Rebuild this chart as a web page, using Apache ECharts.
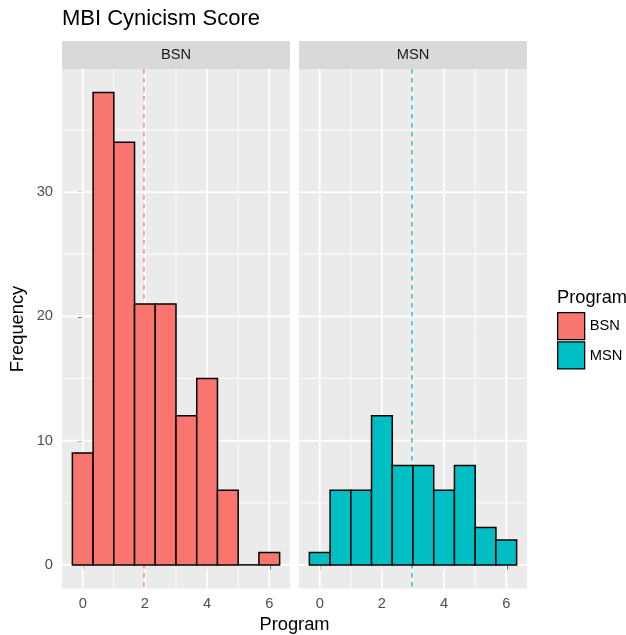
<!DOCTYPE html>
<html><head><meta charset="utf-8">
<script src="https://cdn.jsdelivr.net/npm/echarts@6/dist/echarts.min.js"></script>
<style>html,body{margin:0;padding:0;background:#fff}#c{width:626px;height:635px}</style>
</head><body><div id="c"></div>
<script>
// ---- data ----
const binCenters = [0, 2/3, 4/3, 2, 8/3, 10/3, 4, 14/3, 16/3, 6];
const binWidth = 2/3;
const bsnCounts = [9, 38, 34, 21, 21, 12, 15, 6, 0, 1];
const msnCounts = [1, 6, 6, 12, 8, 8, 6, 8, 3, 2];
const programs = ['BSN', 'MSN'];
const programMeans = [1.97, 2.97];
const programColors = ['#F8766D', '#00BFC4'];
const xTicks = [0, 2, 4, 6];
const xMinorTicks = [1, 3, 5];
const yTicks = [0, 10, 20, 30];
const yMinorTicks = [5, 15, 25, 35];
const titleText = 'MBI Cynicism Score';
const xTitle = 'Program';
const yTitle = 'Frequency';
const legendTitle = 'Program';

// ---- layout ----
const FONT = 'Liberation Sans';
const panelTop = 69, panelH = 519.5, panelW = 228;
const panelLefts = [62, 299];
const xMin = -2/3, xMax = 20/3, yMin = -1.9, yMax = 39.9;
const countsByPanel = [bsnCounts, msnCounts];

const gridItems = [].concat(
  xMinorTicks.map(v => ({axis: 'x', v, major: false})),
  yMinorTicks.map(v => ({axis: 'y', v, major: false})),
  xTicks.map(v => ({axis: 'x', v, major: true})),
  yTicks.map(v => ({axis: 'y', v, major: true}))
);

const grids = [], xAxes = [], yAxes = [], series = [], graphics = [];
panelLefts.forEach((left, p) => {
  grids.push({left: left, top: panelTop, width: panelW, height: panelH,
    show: true, backgroundColor: '#EBEBEB', borderWidth: 0, containLabel: false});
  xAxes.push({type: 'value', gridIndex: p, min: xMin, max: xMax,
    axisLine: {show: false},
    axisTick: {show: true, customValues: xTicks, length: 4.6, lineStyle: {color: '#333333', width: 1.7}},
    axisLabel: {show: true, customValues: xTicks, color: '#4D4D4D', fontSize: 14.7, fontFamily: FONT, margin: 8},
    splitLine: {show: false}, minorSplitLine: {show: false}});
  yAxes.push({type: 'value', gridIndex: p, min: yMin, max: yMax,
    axisLine: {show: false},
    axisTick: {show: p === 0, customValues: yTicks, length: 4.6, lineStyle: {color: '#333333', width: 1.7}},
    axisLabel: {show: p === 0, customValues: yTicks, color: '#4D4D4D', fontSize: 14.7, fontFamily: FONT, margin: 9},
    splitLine: {show: false}, minorSplitLine: {show: false}});

  // gridlines
  series.push({type: 'custom', xAxisIndex: p, yAxisIndex: p, z: 1, silent: true,
    data: gridItems.map(g => g.axis === 'x' ? [g.v, 0] : [0, g.v]),
    renderItem: function (params, api) {
      const g = gridItems[params.dataIndex];
      const cs = params.coordSys;
      const lw = g.major ? 1.8 : 0.9;
      if (g.axis === 'x') {
        const x = api.coord([g.v, 0])[0];
        return {type: 'line', shape: {x1: x, y1: cs.y, x2: x, y2: cs.y + cs.height},
          style: {stroke: '#FFFFFF', lineWidth: lw}};
      }
      const y = api.coord([0, g.v])[1];
      return {type: 'line', shape: {x1: cs.x, y1: y, x2: cs.x + cs.width, y2: y},
        style: {stroke: '#FFFFFF', lineWidth: lw}};
    }});

  // mean dashed line
  series.push({type: 'custom', xAxisIndex: p, yAxisIndex: p, z: 1.5, silent: true,
    data: [[programMeans[p], 0]],
    renderItem: function (params, api) {
      const cs = params.coordSys;
      const x = api.coord([api.value(0), 0])[0];
      return {type: 'line', shape: {x1: x, y1: cs.y, x2: x, y2: cs.y + cs.height},
        style: {stroke: programColors[p], lineWidth: 1.3, lineDash: [4.5, 4.5]}};
    }});

  // histogram bars
  const counts = countsByPanel[p];
  series.push({type: 'custom', name: programs[p], xAxisIndex: p, yAxisIndex: p, z: 2,
    itemStyle: {color: programColors[p]},
    data: binCenters.map((c, i) => [c, counts[i]]),
    renderItem: function (params, api) {
      const c = api.value(0), n = api.value(1);
      const p0 = api.coord([c - binWidth / 2, 0]);
      const p1 = api.coord([c + binWidth / 2, n]);
      if (n === 0) {
        return {type: 'line', shape: {x1: p0[0], y1: p0[1], x2: p1[0], y2: p0[1]},
          style: {stroke: '#000', lineWidth: 1.5}};
      }
      return {type: 'rect', shape: {x: p0[0], y: p1[1], width: p1[0] - p0[0], height: p0[1] - p1[1]},
        style: {fill: programColors[p], stroke: '#000', lineWidth: 1.5}};
    }});

  // strip
  graphics.push({type: 'rect', left: left, top: panelTop - 28, shape: {width: panelW, height: 28},
    style: {fill: '#D9D9D9'}, silent: true});
  graphics.push({type: 'text', x: left + panelW / 2, y: panelTop - 14,
    style: {text: programs[p], font: '14.7px "' + FONT + '"', fill: '#1A1A1A', align: 'center', verticalAlign: 'middle'}});
});

graphics.push({type: 'text', x: 62, y: 19,
  style: {text: titleText, font: '22px "' + FONT + '"', fill: '#000', align: 'left', verticalAlign: 'middle'}});
graphics.push({type: 'text', x: 294.5, y: 625,
  style: {text: xTitle, font: '18.3px "' + FONT + '"', fill: '#000', align: 'center', verticalAlign: 'middle'}});
graphics.push({type: 'text', x: 18, y: 329, rotation: Math.PI / 2,
  style: {text: yTitle, font: '18.3px "' + FONT + '"', fill: '#000', align: 'center', verticalAlign: 'middle'}});
graphics.push({type: 'text', x: 557, y: 298,
  style: {text: legendTitle, font: '18.3px "' + FONT + '"', fill: '#000', align: 'left', verticalAlign: 'middle'}});

const chart = echarts.init(document.getElementById('c'), null, {renderer: 'canvas'});
chart.setOption({
  animation: false,
  backgroundColor: '#FFFFFF',
  grid: grids, xAxis: xAxes, yAxis: yAxes, series: series,
  legend: {data: programs, orient: 'vertical', left: 557, top: 312, padding: 0, itemWidth: 27, itemHeight: 27,
    itemGap: 1, icon: 'rect', selectedMode: false,
    itemStyle: {borderColor: '#000', borderWidth: 1.3},
    textStyle: {fontSize: 14.7, color: '#000', fontFamily: FONT}},
  graphic: graphics
});
</script></body></html>
